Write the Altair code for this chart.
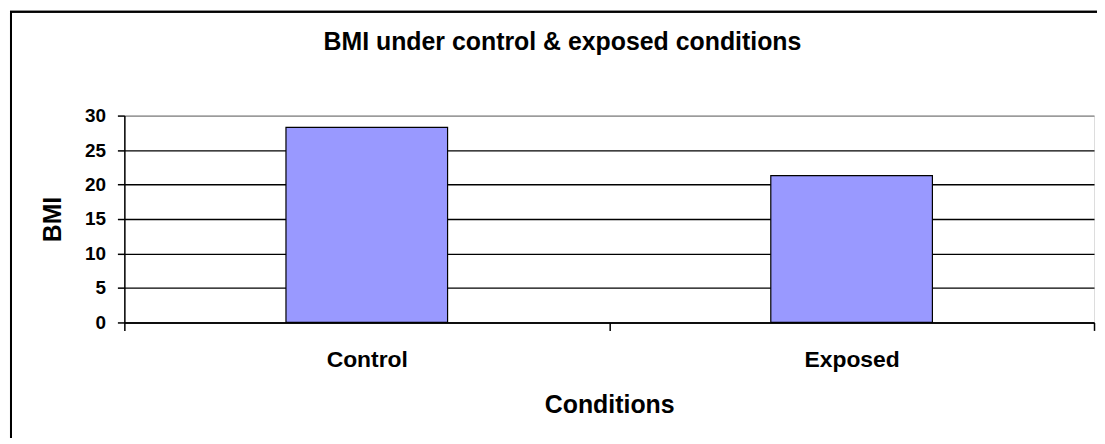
import altair as alt
import pandas as pd

conditions = ["Control", "Exposed"]
bmi_values = [28.3, 21.3]

df = pd.DataFrame({"Conditions": conditions, "BMI": bmi_values})
FONT = "Liberation Sans"

bars = alt.Chart(df).mark_bar(
    width=alt.RelativeBandSize(1 / 3),
    color="#9999FF",
    stroke="black",
    strokeWidth=1.2,
).encode(
    x=alt.X(
        "Conditions:N",
        sort=conditions,
        scale=alt.Scale(paddingInner=0, paddingOuter=0),
        axis=alt.Axis(
            title="Conditions",
            labelAngle=0,
            tickBand="extent",
            tickSize=8,
            tickColor="black",
            tickWidth=1.5,
            domainColor="black",
            domainWidth=1.5,
            labelPadding=18,
            labelFont=FONT,
            labelFontSize=23,
            labelFontWeight="bold",
            labelColor="black",
            titleFont=FONT,
            titleFontSize=25,
            titleFontWeight="bold",
            titleColor="black",
            titlePadding=22,
        ),
    ),
    y=alt.Y(
        "BMI:Q",
        scale=alt.Scale(domain=[0, 30], nice=False),
        axis=alt.Axis(
            title="BMI",
            values=[0, 5, 10, 15, 20, 25, 30],
            grid=True,
            gridColor={"condition": {"test": "datum.value === 30", "value": "#808080"}, "value": "black"},
            gridWidth=1.4,
            tickSize=7,
            tickColor="black",
            tickWidth=1.5,
            domainColor="black",
            domainWidth=1.5,
            labelPadding=12,
            labelFont=FONT,
            labelFontSize=19,
            labelFontWeight="bold",
            labelColor="black",
            titleFont=FONT,
            titleFontSize=25,
            titleFontWeight="bold",
            titleColor="black",
            titlePadding=19,
        ),
    ),
)

frame = alt.Chart(df).mark_rect(
    fill=None, stroke="black", strokeWidth=2
).encode(
    x=alt.value(-114), x2=alt.value(1300), y=alt.value(-104.5), y2=alt.value(600)
)

chart = alt.layer(frame, bars).properties(
    width=975,
    height=208,
    autosize=alt.AutoSizeParams(type="none"),
    padding={"left": 117, "top": 107, "right": 3, "bottom": 115},
    title=alt.TitleParams(
        text="BMI under control & exposed conditions",
        font=FONT,
        fontSize=25,
        fontWeight="bold",
        color="black",
        anchor="middle",
        frame="group",
        dx=-47,
        dy=45,
        offset=0,
    ),
).configure_view(
    stroke="#808080", strokeWidth=1.2
).configure(background="white")

chart.save("out.html", embed_options={"renderer": "svg", "actions": False})
